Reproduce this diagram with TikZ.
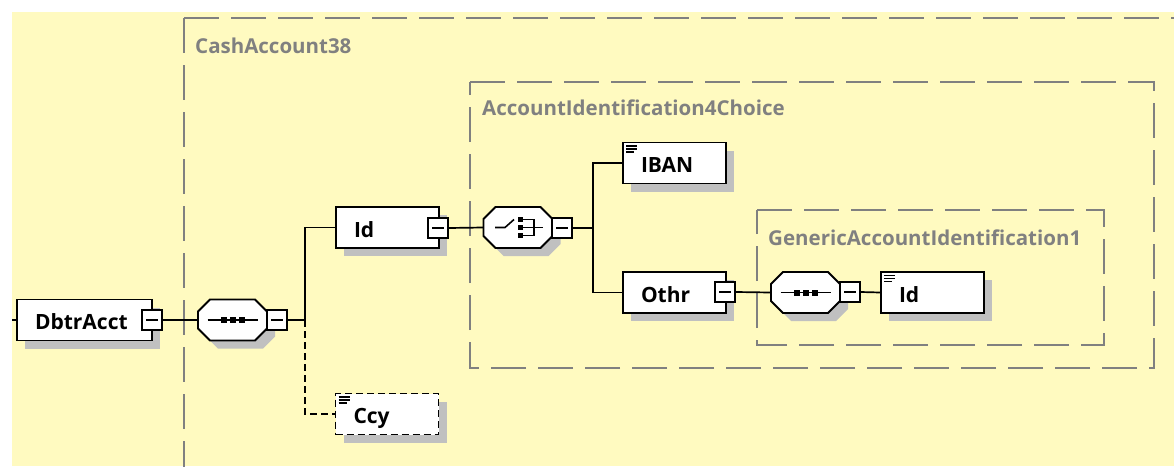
\documentclass[tikz,border=0pt]{standalone}
\usepackage{fontspec}
\setmainfont{Open Sans}
\usetikzlibrary{shadows}
\definecolor{bgy}{RGB}{255,250,192}
\definecolor{shd}{RGB}{192,192,192}
\definecolor{frm}{RGB}{128,128,128}
\newcommand\seqsym[2]{%
  \begin{scope}[shift={(#1,#2)}]
    \draw[line width=1.6pt] (-25,0) -- (25,0);
    \foreach \q in {-9,0,9} \fill (\q-3,-3) rectangle (\q+3,3);
  \end{scope}}
\newcommand\chsym[2]{%
  \begin{scope}[shift={(#1,#2)}]
    \draw[line width=1.6pt] (-24,0) -- (-14,0) -- (-5,-8);
    \foreach \q in {-8,0,8} \fill (-1,\q-2.5) rectangle (4,\q+2.5);
    \draw[line width=1.6pt] (4,-8) -- (15,-8) -- (15,8) -- (4,8);
    \draw[line width=1.6pt] (4,0) -- (24,0);
  \end{scope}}
\newcommand\octag[2]{%
  \begin{scope}[shift={(#1,#2)}]
    \fill[shd] (8,8) ++(-22.5,-20.5) -- ++(45,0) -- ++(12,12) -- ++(0,17) -- ++(-12,12) -- ++(-45,0) -- ++(-12,-12) -- ++(0,-17) -- cycle;
    \draw[line width=1.8pt, fill=white] (-22.5,-20.5) -- (22.5,-20.5) -- (34.5,-8.5) -- (34.5,8.5) -- (22.5,20.5) -- (-22.5,20.5) -- (-34.5,8.5) -- (-34.5,-8.5) -- cycle;
  \end{scope}}
\newcommand\docicon[1]{%
  \draw[line width=1.3pt] ([xshift=4pt,yshift=-4.5pt]#1.north west) -- ++(11,0) ++(-11,3) -- ++(11,0) ++(-11,3) -- ++(8,0);}
\begin{document}
\begin{tikzpicture}[x=1pt,y=-1pt,
  elem/.style={draw, line width=1.8pt, fill=white, minimum height=41pt,
    inner xsep=18pt, inner ysep=0pt, align=left, text width=67pt,
    text height=19pt, text depth=0pt,
    font=\bfseries\fontsize{21}{24}\selectfont,
    drop shadow={shadow xshift=8pt, shadow yshift=-8pt, fill=shd, opacity=1}},
  minusbox/.style={draw, line width=1.5pt, fill=white, minimum size=20pt, inner sep=0pt,
    path picture={\draw[line width=1.5pt] ([xshift=4pt]path picture bounding box.west) -- ([xshift=-4pt]path picture bounding box.east);}},
  comp/.style={minimum width=69pt, minimum height=41pt, inner sep=0pt},
  conn/.style={line width=1.7pt},
  dsh/.style={dash pattern=on 7pt off 4pt},
  frame/.style={draw=frm, line width=2pt, dash pattern=on 35pt off 12pt},
  lbl/.style={text=frm, font=\bfseries\fontsize{20.5}{24}\selectfont, inner sep=0pt, anchor=base west}
]
\useasboundingbox (0,0) rectangle (1174,466);
\fill[bgy] (12,12) rectangle (1174,466);
\begin{scope}
  \clip (12,12) rectangle (1174,466);
  \draw[frame] (184,18) -- (1200,18) (184,18) -- (184,480);
\end{scope}
\draw[frame] (470,82) -- (1154,82) -- (1154,368) -- (470,368) -- cycle;
\draw[frame] (757,210) -- (1104,210) -- (1104,345) -- (757,345) -- cycle;
\node[lbl] (lca) at (195,53) {CashAccount38};
\node[lbl] (lai) at (482,115) {AccountIdentification4Choice};
\node[lbl] (lga) at (768,245) {GenericAccountIdentification1};

% elements
\node[elem, text width=99pt] (dbtr) at (84.5,320) {DbtrAcct};
\node[minusbox] (dbtrm) at (152,320) {};
\octag{232.5}{320}
\node[comp] (s1) at (232.5,320) {};
\seqsym{232.5}{320}
\node[minusbox] (s1m) at (277,320) {};

\node[elem] (id) at (387.5,227.5) {Id};
\node[minusbox] (idm) at (438,228) {};
\octag{518}{227.5}
\node[comp] (ch) at (518,227.5) {};
\chsym{519}{227.5}
\node[minusbox] (chm) at (562,228) {};

\node[elem] (iban) at (674.5,163) {IBAN};
\docicon{iban}
\node[elem] (othr) at (674.5,292.5) {Othr};
\node[minusbox] (othrm) at (725,292) {};
\octag{805.5}{292.5}
\node[comp] (s2) at (805.5,292.5) {};
\seqsym{805.5}{292.5}
\node[minusbox] (s2m) at (850,292) {};
\node[elem] (id2) at (932.5,292.5) {Id};
\docicon{id2}

\node[elem, dsh] (ccy) at (387,414) {Ccy};
\docicon{ccy}

% connectors
\coordinate (in) at (12,320);
\coordinate (b1) at (305,320);
\coordinate (b2) at (593,228);
\draw[conn] (in) -- (dbtr.west);
\draw[conn] (dbtrm.east) -- (s1.west);
\draw[conn] (s1m.east) -- (b1);
\draw[conn] (b1) |- (id.west);
\draw[conn, dsh] (b1) |- (ccy.west);
\draw[conn] (idm.east) -- (ch.west);
\draw[conn] (chm.east) -- (b2);
\draw[conn] (b2) |- (iban.west);
\draw[conn] (b2) |- (othr.west);
\draw[conn] (othrm.east) -- (s2.west);
\draw[conn] (s2m.east) -- (id2.west);
\end{tikzpicture}
\end{document}
